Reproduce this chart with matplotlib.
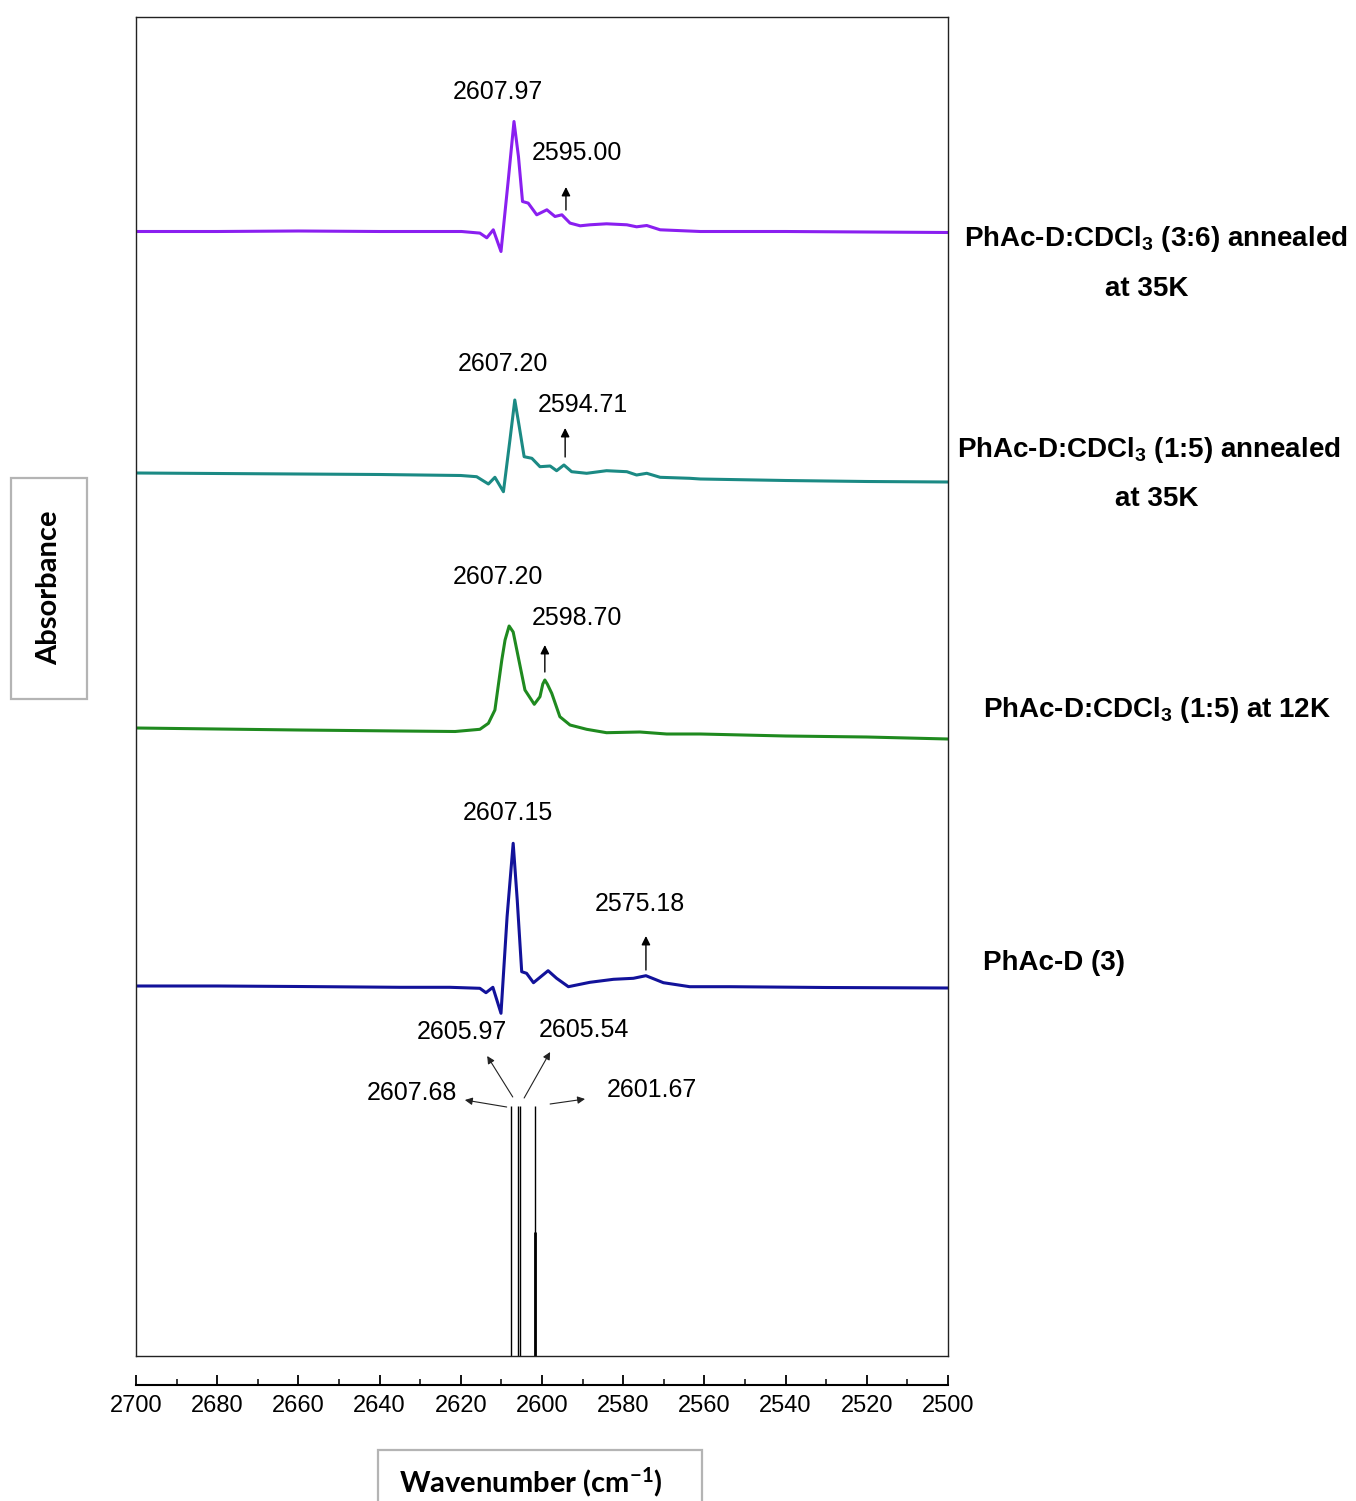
import matplotlib
matplotlib.use('Agg')
import matplotlib.pyplot as plt
from matplotlib import font_manager
from matplotlib.patches import Rectangle
from matplotlib.ticker import MultipleLocator

plt.rcParams['font.family'] = ['Liberation Sans', 'DejaVu Sans']

W, H = 1356, 1501

# traces: wavenumber (cm-1) and absorbance above each trace's own baseline (arb. units)
wn_p = [2700, 2680, 2660, 2640, 2625, 2619.8, 2615.3, 2613.6, 2612.0, 2610.1, 2608.3, 2606.9,
        2605.8, 2604.8, 2603.4, 2601.3, 2598.8, 2596.8, 2595.1, 2593.1, 2590.6, 2588.2, 2584.1,
        2579.1, 2576.7, 2574.2, 2570.9, 2561, 2540, 2520, 2500]
a_p = [0, 0, 0.5, 0, 0, 0, -1.6, -6.3, 1.7, -20, 51.7, 110,
       75, 30, 28.4, 16.7, 21.7, 15, 16.7, 8.4, 5.7, 6.7, 7.7,
       6.7, 4.7, 6, 1.7, 0, 0, -0.5, -1]

wn_t = [2700, 2680, 2660, 2640, 2620, 2616.1, 2613.2, 2611.6, 2609.5, 2607.9, 2606.7, 2605.6,
        2604.4, 2602.5, 2600.5, 2598.0, 2596.4, 2594.6, 2592.7, 2589.0, 2584.1, 2579.1, 2576.7,
        2574.2, 2570.9, 2563.6, 2561.0, 2540, 2520, 2500]
a_t = [0, -0.5, -1, -1.5, -2.5, -3.7, -11, -4.3, -18.7, 33, 73, 46.3,
       16.3, 14.7, 6.3, 7, 2.3, 8, 1.3, -0.3, 2.3, 1.3, -2,
       -0.3, -4.3, -5.3, -6, -7.5, -8.5, -9]

wn_g = [2700, 2680, 2660, 2635, 2621.4, 2615.3, 2613.2, 2611.6, 2609.9, 2609.1, 2608.1, 2607.1,
        2606.7, 2604.2, 2601.9, 2600.5, 2599.8, 2599.3, 2598.7, 2597.6, 2595.6, 2593.1, 2589.0,
        2584.1, 2575.9, 2569.3, 2561, 2540, 2520, 2500]
a_g = [0, -1, -2, -3, -3.5, -1.3, 4.7, 18, 68, 88, 102, 96,
       88, 38, 23.7, 31.3, 44, 48, 44, 34.7, 11.3, 3, -1.3,
       -4.7, -4, -6, -6, -8, -9, -11]

wn_b = [2700, 2680, 2660, 2635, 2622.7, 2615.3, 2613.8, 2612.1, 2610.1, 2608.6, 2607.1, 2606.1,
        2605.0, 2603.8, 2602.1, 2598.5, 2596.4, 2593.5, 2588.2, 2582.4, 2577.5, 2574.4, 2570.1,
        2563.6, 2553.7, 2530, 2500]
a_b = [0, 0, -0.5, -1.3, -1.3, -2.3, -6.7, -1.3, -27.3, 69.3, 142.7, 86,
       14.3, 12.7, 3.3, 15.3, 7.7, -0.7, 3.7, 6.7, 7.7, 10.3, 3.3,
       -0.7, -0.7, -1.5, -2]

trace_labels = [r'PhAc-D:CDCl$\mathregular{_3}$ (3:6) annealed',
                r'PhAc-D:CDCl$\mathregular{_3}$ (1:5) annealed',
                r'PhAc-D:CDCl$\mathregular{_3}$ (1:5) at 12K',
                'PhAc-D (3)']
trace_colors = ['#8a1ff0', '#1b8a84', '#1f8a1f', '#12129a']
offsets = [1124.5, 883, 628, 370]

# peak labels: (text, x, y) and arrows marking shoulders
peak_text = ['2607.97', '2595.00', '2607.20', '2594.71', '2607.20', '2598.70', '2607.15', '2575.18']
peak_x = [2610.8, 2591.4, 2609.6, 2589.9, 2610.8, 2591.4, 2608.4, 2575.9]
peak_y = [1264, 1203, 992, 951, 779, 738, 543, 452]
arrow_x = [2594.1, 2594.3, 2599.3, 2574.4]
arrow_y0 = [1146, 899, 684, 386]
arrow_y1 = [1169, 928, 711, 420]

# computed stick spectrum
stick_pos = [2607.68, 2605.97, 2605.54, 2601.67, 2601.67]
stick_int = [250, 250, 250, 250, 124]
stick_lw = [1, 1, 1, 1, 2]
stick_text = ['2607.68', '2605.97', '2605.54', '2601.67']
stick_tx = [2632.0, 2619.7, 2589.7, 2572.9]
stick_ty = [263, 324, 326, 266]
stick_ax0 = [2608.7, 2607.2, 2604.4, 2598.0]
stick_ay0 = [249, 259, 258, 252]
stick_ax1 = [2619.0, 2613.5, 2598.0, 2589.4]
stick_ay1 = [256, 300, 304, 257]

installed = {f.name for f in font_manager.fontManager.ttflist}
tick_family = 'Liberation Sans Narrow' if 'Liberation Sans Narrow' in installed else 'Liberation Sans'
tick_size = 20 if tick_family == 'Liberation Sans Narrow' else 17

fig = plt.figure(figsize=(W / 100, H / 100), dpi=100)
ax = fig.add_axes([136 / W, 145 / H, 812 / W, 1339 / H])

for wn, a, off, c in zip([wn_p, wn_t, wn_g, wn_b], [a_p, a_t, a_g, a_b], offsets, trace_colors):
    ax.plot(wn, [v + off for v in a], color=c, lw=2.2, solid_joinstyle='round')

ax.vlines(stick_pos, 0, stick_int, colors='black', linewidths=stick_lw)

for t, x, y in zip(peak_text, peak_x, peak_y):
    ax.text(x, y, t, ha='center', va='center', fontsize=18)
for x, y0, y1 in zip(arrow_x, arrow_y0, arrow_y1):
    ax.annotate('', xy=(x, y1), xytext=(x, y0),
                arrowprops=dict(arrowstyle='-|>', color='black', lw=1, mutation_scale=13,
                                shrinkA=0, shrinkB=0))

for t, x, y in zip(stick_text, stick_tx, stick_ty):
    ax.text(x, y, t, ha='center', va='center', fontsize=18)
for x0, y0, x1, y1 in zip(stick_ax0, stick_ay0, stick_ax1, stick_ay1):
    ax.annotate('', xy=(x1, y1), xytext=(x0, y0),
                arrowprops=dict(arrowstyle='-|>', color='#222222', lw=0.8, mutation_scale=11,
                                shrinkA=0, shrinkB=0))

ax.set_xlim(2700, 2500)
ax.set_ylim(0, 1339)
ax.set_yticks([])
ax.xaxis.set_major_locator(MultipleLocator(20))
ax.xaxis.set_minor_locator(MultipleLocator(10))
ax.tick_params(axis='x', which='major', direction='in', length=7, width=1.3, pad=7,
               labelsize=tick_size, labelfontfamily=tick_family)
ax.tick_params(axis='x', which='minor', direction='in', length=4, width=1.1)
for s in ['left', 'right', 'top']:
    ax.spines[s].set_linewidth(1)
    ax.spines[s].set_color('#222222')
ax.spines['bottom'].set_position(('outward', 29 * 72 / 100))
ax.spines['bottom'].set_linewidth(1.5)
ax.plot([0, 1], [0, 0], transform=ax.transAxes, color='#222222', lw=1, clip_on=False)


def fx(px):
    return px / W


def fy(py):
    return 1 - py / H


# right-hand labels
fig.text(fx(1156), fy(246), trace_labels[0], ha='center', va='baseline', fontsize=20, fontweight='bold')
fig.text(fx(1147), fy(296), 'at 35K', ha='center', va='baseline', fontsize=20, fontweight='bold')
fig.text(fx(1149), fy(457), trace_labels[1], ha='center', va='baseline', fontsize=20, fontweight='bold')
fig.text(fx(1157), fy(506), 'at 35K', ha='center', va='baseline', fontsize=20, fontweight='bold')
fig.text(fx(1157), fy(717), trace_labels[2], ha='center', va='baseline', fontsize=20, fontweight='bold')
fig.text(fx(983), fy(970), trace_labels[3], ha='left', va='baseline', fontsize=20, fontweight='bold')

# boxed axis titles
fig.patches.append(Rectangle((fx(11), fy(699)), 76 / W, 221 / H, transform=fig.transFigure,
                             fill=False, edgecolor='#b4b4b4', lw=1.6))
fig.text(fx(49), fy(588), 'Absorbance', rotation=90, ha='center', va='center',
         fontsize=21, fontweight='bold', family='Lato')
fig.patches.append(Rectangle((fx(378), fy(1520)), 324 / W, 70 / H, transform=fig.transFigure,
                             fill=False, edgecolor='#b4b4b4', lw=1.6))
fig.text(fx(531), fy(1492), r'Wavenumber (cm$\mathregular{^{-1}}$)', ha='center', va='baseline',
         fontsize=21, fontweight='bold', family='Lato')

fig.savefig('out.png', dpi=100)
